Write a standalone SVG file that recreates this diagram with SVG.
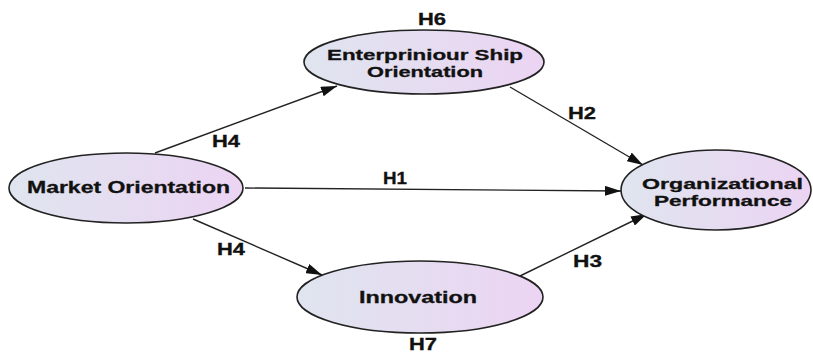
<svg xmlns="http://www.w3.org/2000/svg" width="813" height="352" viewBox="0 0 813 352">
<defs>
<linearGradient id="g" x1="0" y1="0" x2="1" y2="0">
<stop offset="0" stop-color="#dfe5ef"/>
<stop offset="1" stop-color="#ecd4f3"/>
</linearGradient>
<marker id="ah" markerWidth="16" markerHeight="10" refX="16" refY="5" orient="auto" markerUnits="userSpaceOnUse">
<path d="M0,0 L16,5 L0,10 Z" fill="#111"/>
</marker>
<style>
.n{fill:url(#g);stroke:#222;stroke-width:1.6}
.t{font-family:"Liberation Sans",Arial,sans-serif;font-weight:bold;font-size:15px;fill:#111;stroke:#111;stroke-width:0.3}
.h{font-family:"Liberation Sans",Arial,sans-serif;font-weight:bold;font-size:16px;fill:#111;stroke:#111;stroke-width:0.3}
.c{stroke:#222;stroke-width:1.4;fill:none;marker-end:url(#ah)}
</style>
</defs>
<g id="connectors">
<line class="c" x1="155" y1="153" x2="337" y2="86"/>
<line class="c" x1="510" y1="87" x2="643" y2="165"/>
<line class="c" x1="245" y1="188" x2="621" y2="191"/>
<line class="c" x1="193" y1="219" x2="322" y2="275"/>
<line class="c" x1="520" y1="276" x2="647" y2="214"/>
</g>
<g id="labels">
<text class="h" x="418" y="25" textLength="28" lengthAdjust="spacingAndGlyphs">H6</text>
<text class="h" x="409" y="350" textLength="28" lengthAdjust="spacingAndGlyphs">H7</text>
<text class="h" x="212" y="147" textLength="28" lengthAdjust="spacingAndGlyphs">H4</text>
<text class="h" x="217" y="255" textLength="28" lengthAdjust="spacingAndGlyphs">H4</text>
<text class="h" x="383" y="184" textLength="24" lengthAdjust="spacingAndGlyphs">H1</text>
<text class="h" x="568" y="119" textLength="28" lengthAdjust="spacingAndGlyphs">H2</text>
<text class="h" x="573" y="267" textLength="29" lengthAdjust="spacingAndGlyphs">H3</text>
</g>
<g id="enterprise">
<ellipse class="n" cx="424" cy="62" rx="120" ry="32"/>
<text class="t" x="327" y="60" textLength="196" lengthAdjust="spacingAndGlyphs">Enterpriniour Ship</text>
<text class="t" x="367" y="77" textLength="116" lengthAdjust="spacingAndGlyphs">Orientation</text>
</g>
<g id="market">
<ellipse class="n" cx="126" cy="188" rx="117" ry="35"/>
<text class="t" x="27" y="193" textLength="203" lengthAdjust="spacingAndGlyphs" style="font-size:16px">Market Orientation</text>
</g>
<g id="organizational">
<ellipse class="n" cx="716" cy="190" rx="95" ry="40"/>
<text class="t" x="642" y="189" textLength="161" lengthAdjust="spacingAndGlyphs">Organizational</text>
<text class="t" x="654" y="206" textLength="138" lengthAdjust="spacingAndGlyphs">Performance</text>
</g>
<g id="innovation">
<ellipse class="n" cx="420" cy="297" rx="123" ry="36"/>
<text class="t" x="359" y="303" textLength="118" lengthAdjust="spacingAndGlyphs" style="font-size:16px">Innovation</text>
</g>
</svg>
